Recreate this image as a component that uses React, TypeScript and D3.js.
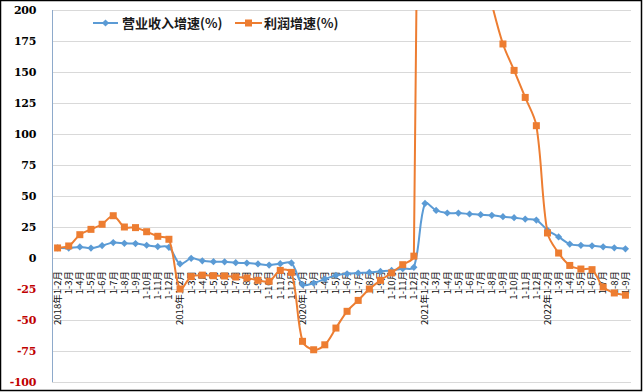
import React from 'react';
import * as d3 from 'd3';

const W = 643;
const H = 392;

// x categories: cumulative months, 2018-02 .. 2022-09
const years = ['2018', '2019', '2020', '2021', '2022'];
const months = [2, 3, 4, 5, 6, 7, 8, 9, 10, 11, 12];
const lastMonth2022 = 9;

const categories: string[] = years
    .map(y =>
        months
            .filter(m => y !== '2022' || m <= lastMonth2022)
            .map(m => (m === 2 ? `${y}年1-2月` : `1-${m}月`))
    )
    .flat();

// 营业收入增速(%)
const revenueGrowth = [
    8.1, 8.0, 8.9, 8.0, 10.0, 12.4, 11.8, 11.6, 10.3, 9.2, 8.6,
    -4.8, -0.3, -2.3, -3.0, -3.1, -3.8, -4.1, -4.8, -5.7, -4.6, -4.0,
    -21.5, -20.2, -17.0, -14.0, -12.7, -12.1, -11.6, -10.8, -10.0, -8.6, -7.5,
    44.0, 38.4, 36.3, 36.2, 35.5, 34.9, 34.4, 33.3, 32.5, 31.4, 30.6,
    22.5, 17.0, 11.2, 10.2, 9.8, 9.0, 8.2, 7.4,
];

// 利润增速(%)
const profitGrowth = [
    8.1, 9.7, 18.8, 23.1, 27.2, 34.1, 25.0, 24.5, 21.2, 17.5, 15.1,
    -25.0, -15.0, -13.8, -14.3, -14.5, -15.3, -16.1, -18.0, -18.8, -10.0, -11.6,
    -67.2, -74.0, -70.0, -56.5, -43.0, -34.2, -25.0, -18.0, -12.0, -5.4, 1.5,
    1050, 720, 500, 380, 300, 245, 205, 172.6, 151.3, 129.5, 106.7,
    20.2, 4.0, -6.0, -8.9, -9.4, -23.4, -28.2, -30.0,
];

const yTicks = [200, 175, 150, 125, 100, 75, 50, 25, 0, -25, -50, -75, -100];

const BLUE = '#5B9BD5';
const ORANGE = '#ED7D31';

const plot = { left: 52, right: 631, top: 10, bottom: 382 };

// smoothed line like the spreadsheet one: tangent from the neighbours,
// split by segment length so a huge jump doesn't bend the short side
const smoothPath = (pts: [number, number][]) => {
    const p = d3.path();
    const n = pts.length;
    const tan = pts.map((pt, i) => {
        const a = pts[Math.max(0, i - 1)];
        const b = pts[Math.min(n - 1, i + 1)];
        const dPrev = i > 0 ? Math.hypot(pt[0] - a[0], pt[1] - a[1]) : 0;
        const dNext = i < n - 1 ? Math.hypot(b[0] - pt[0], b[1] - pt[1]) : 0;
        const s = dPrev + dNext || 1;
        const tx = b[0] - a[0];
        const ty = b[1] - a[1];
        return {
            inC: [pt[0] - (tx * dPrev) / s / 3, pt[1] - (ty * dPrev) / s / 3],
            outC: [pt[0] + (tx * dNext) / s / 3, pt[1] + (ty * dNext) / s / 3],
        };
    });
    p.moveTo(pts[0][0], pts[0][1]);
    for (let i = 1; i < n; i++) {
        const c1 = tan[i - 1].outC;
        const c2 = tan[i].inC;
        p.bezierCurveTo(c1[0], c1[1], c2[0], c2[1], pts[i][0], pts[i][1]);
    }
    return p.toString();
};

const App = () => {
    const x = d3
        .scaleBand<number>()
        .domain(d3.range(categories.length))
        .range([plot.left, plot.right])
        .padding(0);
    const y = d3.scaleLinear().domain([-100, 200]).range([plot.bottom, plot.top]);
    const cx = (i: number) => (x(i) ?? 0) + x.bandwidth() / 2;

    const toPts = (vals: number[]) => vals.map((v, i) => [cx(i), y(v)] as [number, number]);

    const diamond = (px: number, py: number, r: number) =>
        `M${px},${py - r}L${px + r},${py}L${px},${py + r}L${px - r},${py}Z`;

    return (
        <svg
            width={W}
            height={H}
            style={{ position: 'absolute', left: 0, top: 0, background: '#fff' }}
        >
            <defs>
                <clipPath id='plotClip'>
                    <rect
                        x={plot.left}
                        y={plot.top}
                        width={plot.right - plot.left}
                        height={plot.bottom - plot.top}
                    />
                </clipPath>
            </defs>
            <rect x={0.5} y={0.5} width={641} height={390} fill='#fff' stroke='#000' strokeWidth={1.5} />

            {/* gridlines */}
            {yTicks.map(t => (
                <line
                    key={`g${t}`}
                    x1={plot.left}
                    x2={plot.right}
                    y1={Math.round(y(t)) + 0.5}
                    y2={Math.round(y(t)) + 0.5}
                    stroke='#D9D9D9'
                    strokeWidth={1}
                />
            ))}
            <line
                x1={plot.left + 0.5}
                x2={plot.left + 0.5}
                y1={plot.top}
                y2={plot.bottom}
                stroke='#8EAACB'
                strokeWidth={1}
            />

            {/* y tick labels */}
            {yTicks.map(t => (
                <text
                    key={`t${t}`}
                    x={36}
                    y={y(t)}
                    dy='0.35em'
                    textAnchor='end'
                    fontFamily='DejaVu Serif'
                    fontWeight='bold'
                    fontSize={11}
                    letterSpacing={-0.3}
                    fill={t < 0 ? '#C00000' : '#000'}
                >
                    {t}
                </text>
            ))}

            {/* x category labels */}
            {categories.map((c, i) => (
                <text
                    key={`c${i}`}
                    transform={`translate(${cx(i)},${y(0) + 13}) rotate(-90)`}
                    dy='0.35em'
                    textAnchor='end'
                    fontFamily='Noto Sans CJK SC'
                    fontSize={9.5}
                    fill='#111'
                >
                    {c}
                </text>
            ))}

            <g clipPath='url(#plotClip)'>
                <path d={smoothPath(toPts(revenueGrowth))} fill='none' stroke={BLUE} strokeWidth={2} />
                {revenueGrowth.map((v, i) => (
                    <path key={`b${i}`} d={diamond(cx(i), y(v), 3.6)} fill={BLUE} />
                ))}
                <path d={smoothPath(toPts(profitGrowth))} fill='none' stroke={ORANGE} strokeWidth={2} />
                {profitGrowth.map((v, i) => (
                    <rect
                        key={`o${i}`}
                        x={cx(i) - 3.5}
                        y={y(v) - 3.5}
                        width={7}
                        height={7}
                        fill={ORANGE}
                    />
                ))}
            </g>

            {/* legend */}
            <g fontFamily='Noto Sans CJK SC' fontWeight='bold' fontSize={13} fill='#1a1a1a'>
                <line x1={93} x2={118} y1={23} y2={23} stroke={BLUE} strokeWidth={2} />
                <path d={diamond(105.5, 23, 3.6)} fill={BLUE} />
                <text x={122} y={23} dy='0.35em'>
                    营业收入增速(%)
                </text>
                <line x1={235} x2={262} y1={23} y2={23} stroke={ORANGE} strokeWidth={2} />
                <rect x={245} y={19.5} width={7} height={7} fill={ORANGE} />
                <text x={264} y={23} dy='0.35em'>
                    利润增速(%)
                </text>
            </g>
        </svg>
    );
};

export default App;
